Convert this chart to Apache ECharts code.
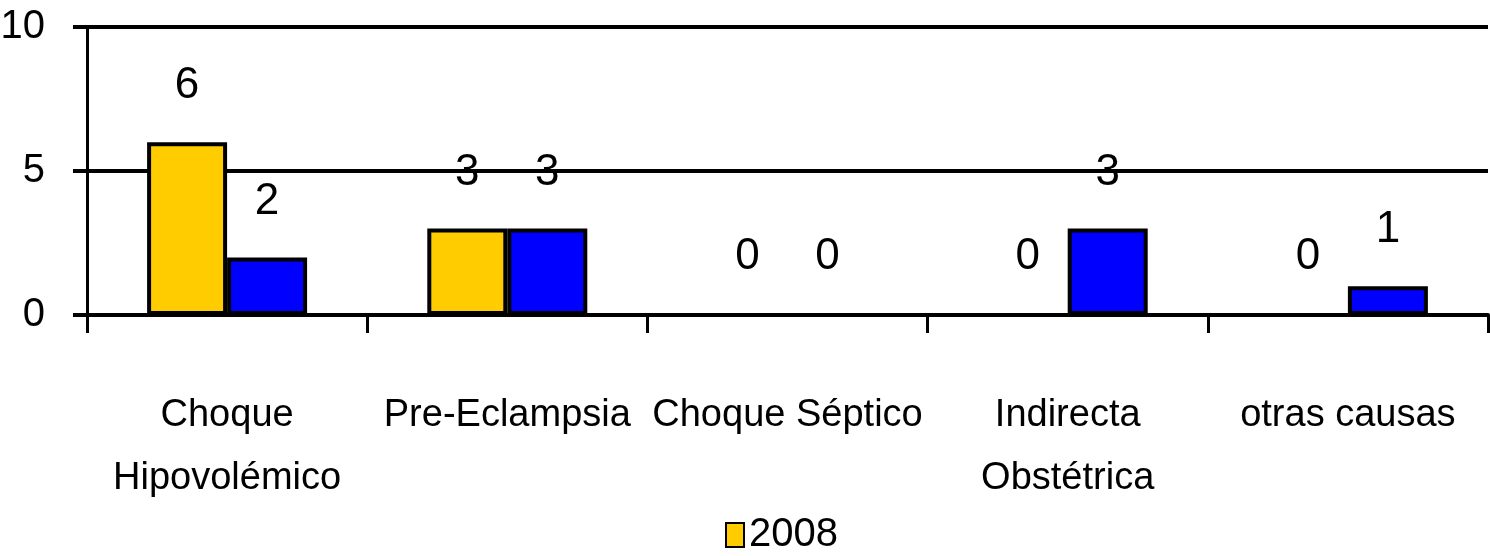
<!DOCTYPE html>
<html>
<head>
<meta charset="utf-8">
<script src="https://cdn.jsdelivr.net/npm/echarts@6/dist/echarts.min.js"></script>
<style>
html,body{margin:0;padding:0;background:#fff;}
#chart{width:1490px;height:556px;}
</style>
</head>
<body>
<div id="chart"></div>
<script>
const categories = ['Choque\nHipovolémico', 'Pre-Eclampsia', 'Choque Séptico', 'Indirecta\nObstétrica', 'otras causas'];
const series2008 = [6, 3, 0, 0, 0];
const series2009 = [2, 3, 0, 3, 1];
const yTicks = { min: 0, max: 10, interval: 5 };

const FONT = "'Liberation Sans', Arial, sans-serif";

const chart = echarts.init(document.getElementById('chart'), null, { renderer: 'canvas' });

const labelCfg = {
  show: true,
  position: 'top',
  distance: 34,
  color: '#000',
  fontFamily: FONT,
  fontSize: 44,
  lineHeight: 44
};

chart.setOption({
  animation: false,
  backgroundColor: '#fff',
  textStyle: { fontFamily: FONT, color: '#000' },
  grid: { left: 87, right: 2, top: 27, bottom: 241, containLabel: false, outerBoundsMode: 'none' },
  legend: {
    data: ['2008'],
    icon: 'rect',
    left: 720,
    top: 510,
    itemWidth: 18,
    itemHeight: 24,
    itemGap: 8,
    textStyle: { fontFamily: FONT, fontSize: 40, color: '#000' }
  },
  xAxis: {
    type: 'category',
    data: categories,
    axisLine: { show: true, lineStyle: { color: '#000', width: 4 } },
    axisTick: { show: true, length: 18, lineStyle: { color: '#000', width: 3 } },
    axisLabel: {
      color: '#000',
      fontFamily: FONT,
      fontSize: 38,
      lineHeight: 63,
      margin: 69,
      interval: 0,
      verticalAlign: 'top'
    },
    splitLine: { show: false }
  },
  yAxis: {
    type: 'value',
    min: yTicks.min,
    max: yTicks.max,
    interval: yTicks.interval,
    axisLine: { show: true, lineStyle: { color: '#000', width: 3 } },
    axisTick: { show: true, length: 14, lineStyle: { color: '#000', width: 4 } },
    axisLabel: { color: '#000', fontFamily: FONT, fontSize: 40, margin: 42 },
    splitLine: { show: true, lineStyle: { color: '#000', width: 4 } }
  },
  series: [
    {
      name: '2008',
      type: 'bar',
      data: series2008,
      barWidth: 80,
      barGap: '0%',
      itemStyle: { color: '#FFCC00', borderColor: '#000', borderWidth: 4 },
      label: labelCfg
    },
    {
      name: '2009',
      type: 'bar',
      data: series2009,
      barWidth: 80,
      barGap: '0%',
      itemStyle: { color: '#0000FF', borderColor: '#000', borderWidth: 4 },
      label: labelCfg
    }
  ]
});
</script>
</body>
</html>
